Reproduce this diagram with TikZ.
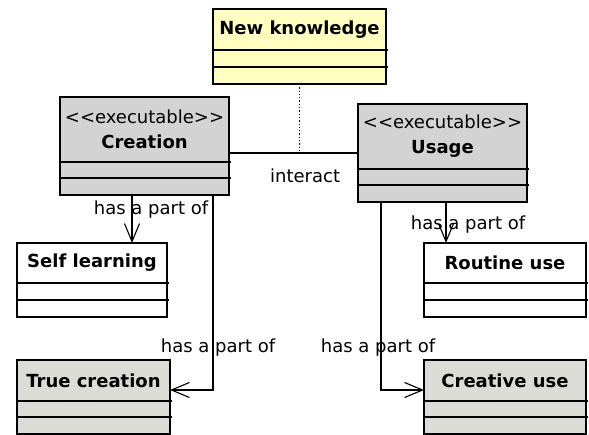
\documentclass[tikz,border=0pt]{standalone}
\usepackage{fontspec}
\setmainfont{DejaVu Sans}[Ligatures=TeXOff]
\usetikzlibrary{arrows.meta,calc}

\definecolor{noteyellow}{RGB}{255,255,192}
\definecolor{execgray}{RGB}{211,211,211}
\definecolor{partgray}{RGB}{220,220,214}

\begin{document}
\begin{tikzpicture}[x=1pt,y=-1pt,
    font=\fontsize{18}{25}\selectfont,
    classbox/.style={draw,line width=1.4pt,anchor=north west,inner sep=0pt,outer sep=0pt},
    classname/.style={align=center,inner sep=0pt},
    hasa/.style={-{Straight Barb[length=18pt,width=15pt]},line width=1.1pt},
    linklabel/.style={inner sep=0pt,fill=none}]
        \useasboundingbox (0,0) rectangle (589,435);

        % the classes
        \node[classbox,fill=noteyellow,minimum width=173,minimum height=75] (knowledge) at (213,9) {};
        \node[classbox,fill=execgray,minimum width=169,minimum height=98] (creation) at (60,97) {};
        \node[classbox,fill=execgray,minimum width=169,minimum height=98] (usage) at (358,104) {};
        \node[classbox,fill=white,minimum width=150,minimum height=74] (selflearn) at (17,243) {};
        \node[classbox,fill=partgray,minimum width=153,minimum height=74] (truecreation) at (17,360) {};
        \node[classbox,fill=white,minimum width=162,minimum height=74] (routineuse) at (424,243) {};
        \node[classbox,fill=partgray,minimum width=162,minimum height=74] (creativeuse) at (424,360) {};

        % compartments
        \foreach \c/\a/\b in {knowledge/41/58,creation/65/81,usage/65/81,selflearn/40/57,
                              truecreation/41/57,routineuse/40/57,creativeuse/41/57}{
            \draw[line width=1.4pt] ([yshift=-\a pt]\c.north west) -- ([yshift=-\a pt,xshift=2pt]\c.north east);
            \draw[line width=1.4pt] ([yshift=-\b pt]\c.north west) -- ([yshift=-\b pt,xshift=2pt]\c.north east);
        }

        % names
        \node[classname] (knowledgename) at ([yshift=-20.5]knowledge.north) {\bfseries New knowledge};
        \node[classname] (creationname) at ([yshift=-32.5]creation.north) {<<executable>>\\\bfseries Creation};
        \node[classname] (usagename) at ([yshift=-32.5]usage.north) {<<executable>>\\\bfseries Usage};
        \node[classname] (selflearnname) at ([yshift=-20]selflearn.north) {\bfseries Self learning};
        \node[classname] (truecreationname) at ([yshift=-20.5]truecreation.north) {\bfseries True creation};
        \node[classname] (routineusename) at ([yshift=-20]routineuse.north) {\bfseries Routine use};
        \node[classname] (creativeusename) at ([yshift=-20.5]creativeuse.north) {\bfseries Creative use};

        % links
        \draw[line width=1.1pt] (usage.west -| creation.east) -- (usage.west)
            node[linklabel,pos=0.59,yshift=-23pt] (interactlabel) {interact};
        \draw[line width=1.3pt,dotted] (knowledge.south) -- (knowledge.south |- usage.west);

        \draw[hasa] ([xshift=-12.5]creation.south) -- ([xshift=-12.5]creation.south |- selflearn.north)
            node[linklabel,pos=0.31,xshift=19pt] (selflearnlabel) {has a part of};
        \draw[hasa] ([xshift=68.5]creation.south) |- ([yshift=7]truecreation.east)
            node[linklabel,pos=0.39,xshift=5pt] (truecreationlabel) {has a part of};
        \draw[hasa] ([xshift=3.5]usage.south) -- ([xshift=3.5]usage.south |- routineuse.north)
            node[linklabel,pos=0.56,xshift=22pt] (routineuselabel) {has a part of};
        \draw[hasa] ([xshift=-61.5]usage.south) |- ([yshift=7]creativeuse.west)
            node[linklabel,pos=0.386,xshift=-3pt] (creativeuselabel) {has a part of};
      \end{tikzpicture}
\end{document}
